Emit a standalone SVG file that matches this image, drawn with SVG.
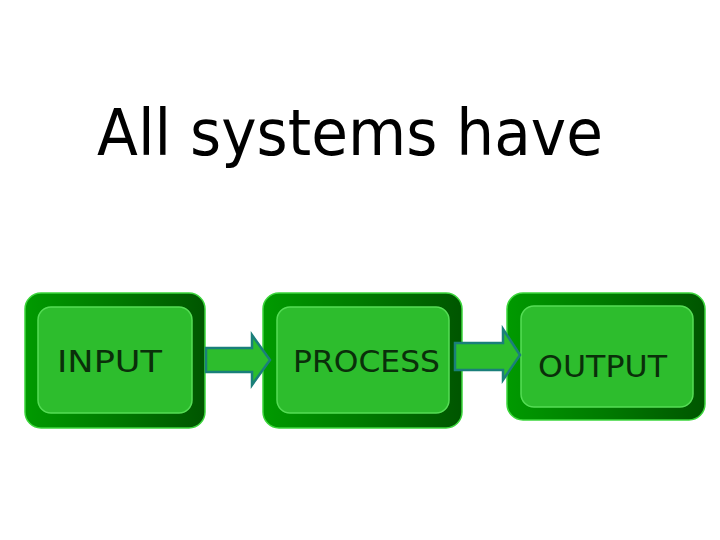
<svg xmlns="http://www.w3.org/2000/svg" width="720" height="540" viewBox="0 0 720 540">
<defs>
<linearGradient id="og" x1="0" y1="0" x2="1" y2="0">
<stop offset="0" stop-color="#009a00"/>
<stop offset="0.5" stop-color="#007a00"/>
<stop offset="1" stop-color="#005500"/>
</linearGradient>
<style>
.outer{fill:url(#og);stroke:#3cd63c;stroke-width:1.5}
.inner{fill:#2dbd2d;stroke:#55dd55;stroke-width:1.5}
.lbl{font-family:"Comic Sans MS","DejaVu Sans","Liberation Sans",sans-serif;font-size:30px;fill:#0a2f0a}
.title{font-family:"Comic Sans MS","DejaVu Sans","Liberation Sans",sans-serif;font-size:64px;fill:#000}
.arr{fill:#2dbd2d;stroke:#1a7f7a;stroke-width:2.5;stroke-linejoin:miter}
</style>
</defs>
<rect width="720" height="540" fill="#fff"/>
<text class="title" x="97" y="155" textLength="506" lengthAdjust="spacingAndGlyphs">All systems have</text>
<g id="input">
<rect class="outer" x="25" y="293" width="180" height="135" rx="16"/>
<rect class="inner" x="38" y="307" width="154" height="106" rx="13"/>
<text class="lbl" x="57" y="372" textLength="105" lengthAdjust="spacingAndGlyphs">INPUT</text>
</g>
<g id="process">
<rect class="outer" x="263" y="293" width="199" height="135" rx="16"/>
<rect class="inner" x="277" y="307" width="172" height="106" rx="13"/>
<text class="lbl" x="293" y="372" textLength="147" lengthAdjust="spacingAndGlyphs">PROCESS</text>
</g>
<g id="output">
<rect class="outer" x="507" y="293" width="198" height="127" rx="16"/>
<rect class="inner" x="521" y="306" width="172" height="101" rx="13"/>
<text class="lbl" x="538" y="377" textLength="129" lengthAdjust="spacingAndGlyphs">OUTPUT</text>
</g>
<g id="connectors">
<polygon class="arr" points="206,348 252,348 252,335 270,360 252,385 252,372 206,372"/>
<polygon class="arr" points="455,343 503,343 503,329 520,355 503,380 503,370 455,370"/>
</g>
</svg>
